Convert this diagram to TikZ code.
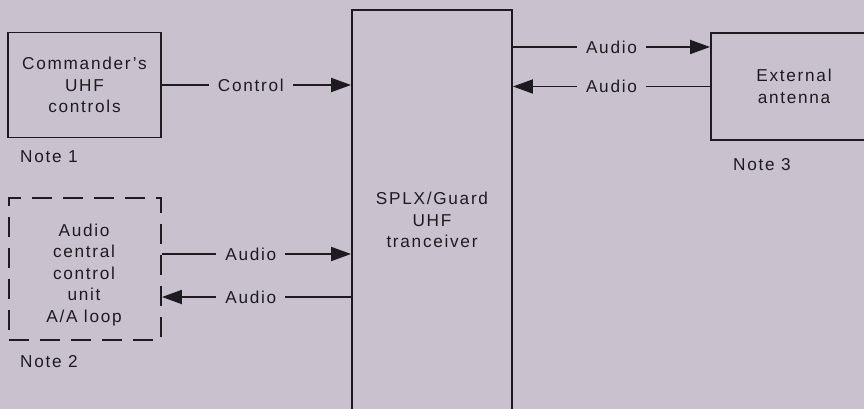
\documentclass[tikz,border=0pt]{standalone}
\usepackage{fontspec}
\setmainfont{Liberation Sans}[LetterSpace=10]
\usetikzlibrary{arrows.meta}
\definecolor{bg}{RGB}{201,194,206}
\definecolor{ink}{RGB}{30,27,32}
\begin{document}
\begin{tikzpicture}[x=1pt,y=-1pt,
  font=\fontsize{17.2}{21.5}\selectfont, text=ink,
  box/.style={draw=ink, line width=1.9pt, align=center, inner sep=0pt},
  dbox/.style={box, dash pattern=on 20pt off 11pt},
  lbl/.style={fill=bg, inner xsep=9pt, inner ysep=1pt},
  note/.style={inner sep=0pt, anchor=west},
  conn/.style={draw=ink, line width=1.9pt},
  arr/.style={conn, -{Triangle[length=20pt,width=14pt]}}]
\fill[bg] (0,0) rectangle (864,409);
\useasboundingbox (0,0) rectangle (864,409);
% nodes
\node[box, minimum width=153pt, minimum height=105pt] (cmd) at (84.5,85) {Commander's\\UHF\\controls};
\node[note] (n1) at (20,157) {Note 1};
\node[dbox, minimum width=152pt, minimum height=142pt] (acu) at (85,269) {};
\node[align=center, inner sep=0pt] (acut) at (84,275) {Audio\\central\\control\\unit\\A/A loop};
\node[note] (n2) at (20,362) {Note 2};
\node[box, minimum width=160pt, minimum height=420pt] (trx) at (432,220) {SPLX/Guard\\UHF\\tranceiver};
\node[box, minimum width=166pt, minimum height=107pt] (ant) at (794,86.5) {External\\antenna};
\node[note] (n3) at (733,165) {Note 3};
% connector end points
\coordinate (c1) at (cmd.east);
\coordinate (c2) at (trx.west |- c1);
\coordinate (a1) at (acu.east |- 0,254);
\coordinate (a2) at (trx.west |- 0,254);
\coordinate (a3) at (acu.east |- 0,297);
\coordinate (a4) at (trx.west |- 0,297);
\coordinate (r1) at (trx.east |- 0,47);
\coordinate (r2) at (ant.west |- 0,47);
\coordinate (r3) at (trx.east |- ant.west);
% connectors
\draw[arr] (c1) -- node[lbl, pos=0.47] {Control} (c2);
\draw[arr] (a1) -- node[lbl, pos=0.47] {Audio} (a2);
\draw[arr] (a4) -- node[lbl, pos=0.53] {Audio} (a3);
\draw[arr] (r1) -- node[lbl] {Audio} (r2);
\draw[arr] (ant.west) -- node[lbl] {Audio} (r3);
\end{tikzpicture}
\end{document}
